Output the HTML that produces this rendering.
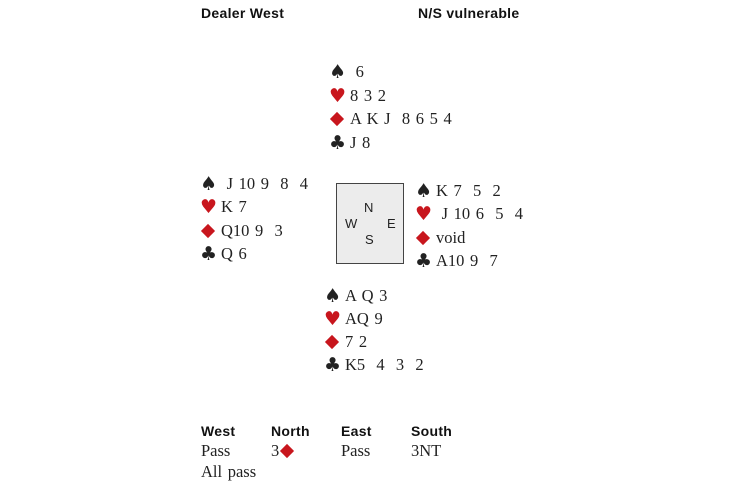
<!DOCTYPE html>
<html><head><style>
body{margin:0;width:730px;height:486px;background:#fff;position:relative;font-family:"Liberation Serif",serif;color:#222;overflow:hidden}
.t{position:absolute;font-size:16.5px;line-height:20px;white-space:pre;word-spacing:1.5px}
.h{position:absolute;font-family:"Liberation Sans",sans-serif;font-weight:bold;font-size:14px;line-height:18px;color:#111;letter-spacing:0.3px}
.s{display:inline-block;width:21px;font-size:19px;font-family:"DejaVu Sans",sans-serif;line-height:20px;vertical-align:top}
.r{color:#c8161d}
.dm{display:inline-block;width:21px;height:20px;vertical-align:top;position:relative}
.dm:after{content:"";position:absolute;left:3px;top:5px;width:10px;height:10px;background:#c8161d;transform:rotate(45deg)}
.box{position:absolute;left:336px;top:183px;width:66px;height:79px;background:#ececec;border:1px solid #444}
.c{position:absolute;font-family:"Liberation Sans",sans-serif;font-size:13px;color:#222}
</style></head><body>
<div class="h" style="left:201px;top:4px">Dealer West</div>
<div class="h" style="left:418px;top:4px">N/S vulnerable</div>

<div class="t" style="left:329px;top:62px"><span class="s">♠</span> 6</div>
<div class="t" style="left:329px;top:86px"><span class="s r">♥</span>8 3 2</div>
<div class="t" style="left:329px;top:109px"><span class="dm"></span>A K J  8 6 5 4</div>
<div class="t" style="left:329px;top:133px"><span class="s">♣</span>J 8</div>

<div class="t" style="left:200px;top:174px"><span class="s">♠</span> J 10 9  8  4</div>
<div class="t" style="left:200px;top:197px"><span class="s r">♥</span>K 7</div>
<div class="t" style="left:200px;top:221px"><span class="dm"></span>Q10 9  3</div>
<div class="t" style="left:200px;top:244px"><span class="s">♣</span>Q 6</div>

<div class="box"></div>
<div class="c" style="left:364px;top:200px">N</div>
<div class="c" style="left:345px;top:216px">W</div>
<div class="c" style="left:387px;top:216px">E</div>
<div class="c" style="left:365px;top:232px">S</div>

<div class="t" style="left:415px;top:181px"><span class="s">♠</span>K 7  5  2</div>
<div class="t" style="left:415px;top:204px"><span class="s r">♥</span> J 10 6  5  4</div>
<div class="t" style="left:415px;top:228px"><span class="dm"></span>void</div>
<div class="t" style="left:415px;top:251px"><span class="s">♣</span>A10 9  7</div>

<div class="t" style="left:324px;top:286px"><span class="s">♠</span>A Q 3</div>
<div class="t" style="left:324px;top:309px"><span class="s r">♥</span>AQ 9</div>
<div class="t" style="left:324px;top:332px"><span class="dm"></span>7 2</div>
<div class="t" style="left:324px;top:355px"><span class="s">♣</span>K5  4  3  2</div>

<div class="h" style="left:201px;top:422px">West</div>
<div class="h" style="left:271px;top:422px">North</div>
<div class="h" style="left:341px;top:422px">East</div>
<div class="h" style="left:411px;top:422px">South</div>
<div class="t" style="left:201px;top:441px">Pass</div>
<div class="t" style="left:271px;top:441px">3<span class="dm"></span></div>
<div class="t" style="left:341px;top:441px">Pass</div>
<div class="t" style="left:411px;top:441px">3NT</div>
<div class="t" style="left:201px;top:462px">All pass</div>
</body></html>
